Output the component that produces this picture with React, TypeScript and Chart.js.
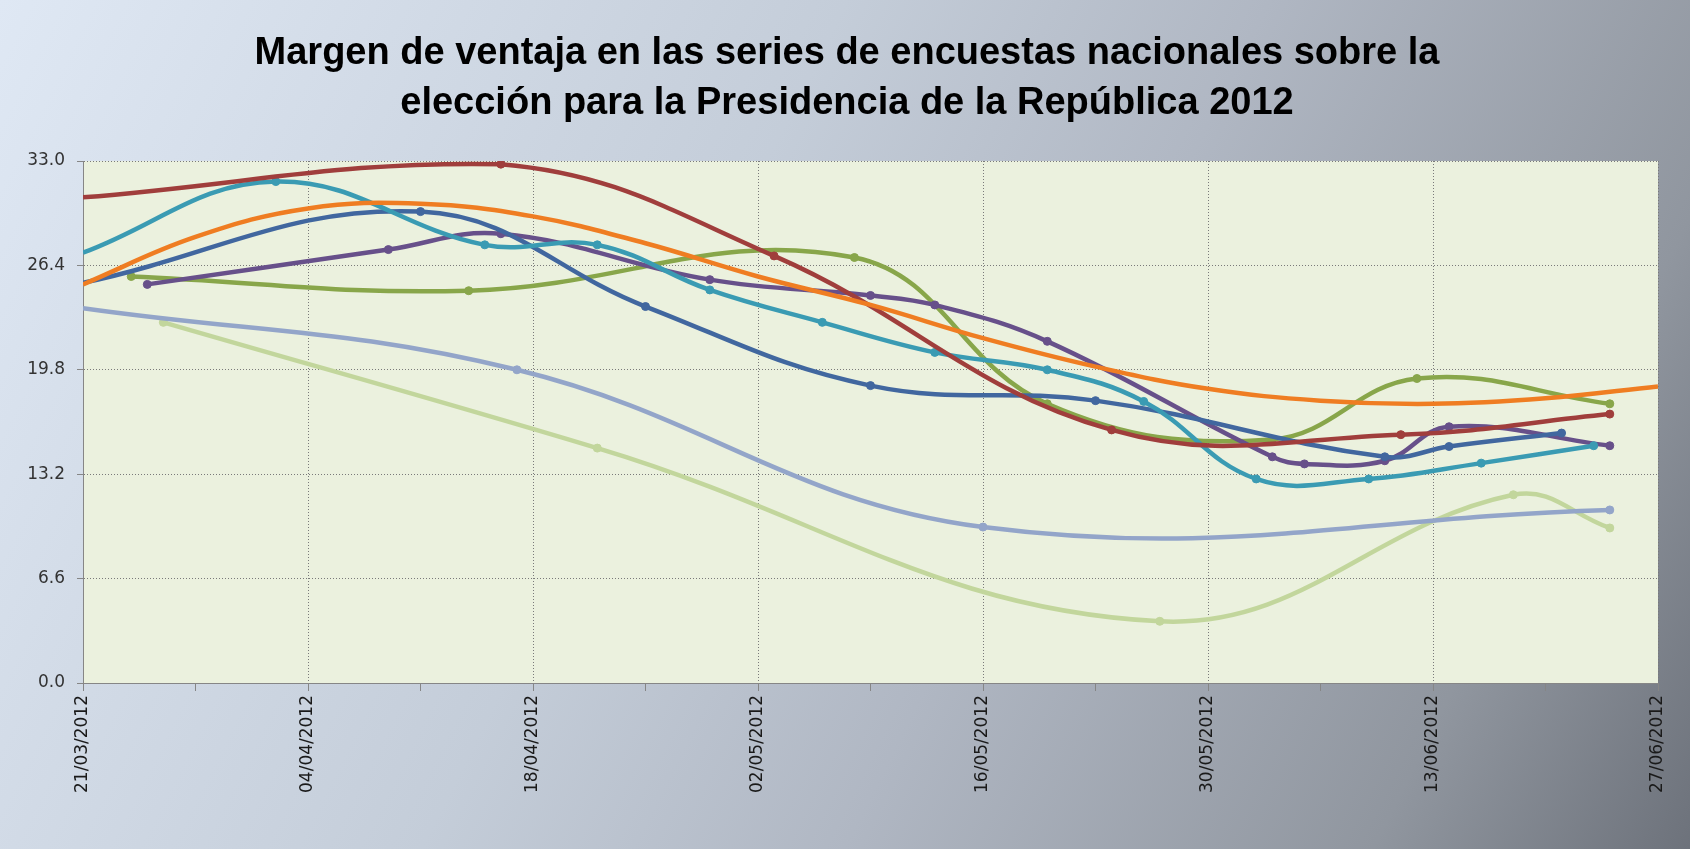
import React, { useEffect, useRef } from 'react';
import { Chart, registerables } from 'chart.js';

Chart.register(...registerables);

// ---------- data ----------
const TITLE_LINES = [
  'Margen de ventaja en las series de encuestas nacionales sobre la',
  'elección para la Presidencia de la República 2012',
];

const X_TICK_LABELS = [
  '21/03/2012', '04/04/2012', '18/04/2012', '02/05/2012',
  '16/05/2012', '30/05/2012', '13/06/2012', '27/06/2012',
];
const Y_TICKS = [0, 6.6, 13.2, 19.8, 26.4, 33.0];

const redDates = ['21/03', '16/04', '03/05', '24/05', '11/06', '24/06'];
const redValues = [30.7, 32.8, 27.0, 16.0, 15.7, 17.0];

const tealDates = ['21/03', '02/04', '15/04', '22/04', '29/04', '06/05', '13/05', '20/05', '26/05', '02/06', '09/06', '16/06', '23/06'];
const tealValues = [27.2, 31.7, 27.7, 27.7, 24.85, 22.8, 20.9, 19.8, 17.8, 12.9, 12.9, 13.9, 15.0];

const blueDates = ['21/03', '11/04', '25/04', '09/05', '23/05', '10/06', '14/06', '21/06'];
const blueValues = [25.3, 29.8, 23.8, 18.8, 17.85, 14.3, 14.95, 15.8];

const purpleDates = ['25/03', '09/04', '16/04', '29/04', '09/05', '13/05', '20/05', '03/06', '05/06', '10/06', '14/06', '24/06'];
const purpleValues = [25.2, 27.4, 28.4, 25.5, 24.5, 23.9, 21.6, 14.3, 13.85, 14.05, 16.2, 15.0];

const greenDates = ['24/03', '14/04', '08/05', '20/05', '03/06', '12/06', '24/06'];
const greenValues = [25.7, 24.8, 26.9, 17.65, 15.4, 19.25, 17.65];

const greyBlueDates = ['21/03', '17/04', '16/05', '24/06'];
const greyBlueValues = [23.7, 19.8, 9.86, 10.94];

const lightGreenDates = ['26/03', '22/04', '27/05', '18/06', '24/06'];
const lightGreenValues = [22.8, 14.85, 3.9, 11.9, 9.8];

const trendDates = ['21/03', '28/03', '04/04', '11/04', '18/04', '25/04', '02/05', '09/05', '16/05', '23/05', '30/05', '06/06', '13/06', '20/06', '27/06'];
const trendValues = [25.2, 28.2, 30.0, 30.3, 29.5, 27.8, 25.7, 23.9, 21.8, 20.0, 18.6, 17.85, 17.65, 18.0, 18.75];

// ---------- helpers ----------
const START = Date.UTC(2012, 2, 21);
function dayOf(s: string): number {
  const [d, m] = s.split('/').map(Number);
  return Math.round((Date.UTC(2012, m - 1, d) - START) / 86400000);
}
function pts(dates: string[], values: number[]) {
  return dates.map((d, i) => ({ x: dayOf(d), y: values[i] }));
}

const X_MAX = dayOf(X_TICK_LABELS[X_TICK_LABELS.length - 1].slice(0, 5));
const X_TICK_DAYS: number[] = [];
for (let v = 0; v <= X_MAX; v += 7) X_TICK_DAYS.push(v);

function line(label: string, dates: string[], values: number[], color: string, order: number, markers = true) {
  return {
    label,
    data: pts(dates, values),
    borderColor: color,
    backgroundColor: color,
    pointBackgroundColor: color,
    pointBorderColor: color,
    borderWidth: 4.5,
    pointRadius: markers ? (ctx: any) => (ctx.raw && ctx.raw.x === 0 ? 0 : 4) : 0,
    pointBorderWidth: 1,
    tension: 0.4,
    fill: false,
    order,
  };
}

const bgPlugin = {
  id: 'bgPlugin',
  afterLayout(chart: any) {
    // let the y-axis labels use the full left margin (title stays centred as in the reference)
    const s = chart.scales.y;
    if (s) {
      s.left = 0;
      s.width = s.right;
    }
  },
  beforeDraw(chart: any) {
    const { ctx, width, height, chartArea } = chart;
    ctx.save();
    const g = ctx.createLinearGradient(0, 0, width, height);
    g.addColorStop(0, '#dfe8f4');
    g.addColorStop(0.4, '#c4cdd9');
    g.addColorStop(0.6, '#b0b7c3');
    g.addColorStop(0.85, '#90969f');
    g.addColorStop(1, '#6d727b');
    ctx.fillStyle = g;
    ctx.fillRect(0, 0, width, height);
    ctx.fillStyle = '#ebf1de';
    ctx.fillRect(chartArea.left, chartArea.top, chartArea.right - chartArea.left, chartArea.bottom - chartArea.top);
    ctx.restore();
  },
};

const AXIS_FONT = "'DejaVu Sans', Verdana, sans-serif";
const PAD_LEFT = 36;

export default function App() {
  const ref = useRef<HTMLCanvasElement>(null);
  useEffect(() => {
    if (!ref.current) return;
    const chart = new Chart(ref.current, {
      type: 'line',
      data: {
        datasets: [
          line('Tendencia', trendDates, trendValues, '#ef7d22', 0, false),
          line('Serie 1', redDates, redValues, '#a03e3c', 1),
          line('Serie 2', tealDates, tealValues, '#3a9bb3', 2),
          line('Serie 3', blueDates, blueValues, '#41679f', 3),
          line('Serie 4', purpleDates, purpleValues, '#67508a', 4),
          line('Serie 5', greenDates, greenValues, '#88a64a', 5),
          line('Serie 6', greyBlueDates, greyBlueValues, '#93a5c9', 6),
          line('Serie 7', lightGreenDates, lightGreenValues, '#c2d69c', 7),
        ] as any,
      },
      options: {
        responsive: false,
        animation: false,
        devicePixelRatio: 1,
        layout: { padding: { left: PAD_LEFT, right: 32, top: 0, bottom: 0 } },
        plugins: {
          legend: { display: false },
          tooltip: { enabled: false },
          title: {
            display: true,
            text: TITLE_LINES,
            color: '#000000',
            font: { family: "'Liberation Sans', Arial, sans-serif", size: 38, weight: 'bold', lineHeight: 50 / 38 },
            padding: { top: 29, bottom: 32 },
          },
        },
        scales: {
          x: {
            type: 'linear',
            min: 0,
            max: X_MAX,
            afterBuildTicks: (s: any) => {
              s.ticks = X_TICK_DAYS.map((v) => ({ value: v }));
            },
            afterFit: (s: any) => {
              s.height = 166;
            },
            ticks: {
              autoSkip: false,
              minRotation: 90,
              maxRotation: 90,
              padding: 4,
              color: '#1a1a1a',
              font: { family: AXIS_FONT, size: 17 },
              callback: (v: any) => (v % 14 === 0 ? X_TICK_LABELS[v / 14] : ''),
            },
            grid: {
              color: (ctx: any) => (ctx.tick && ctx.tick.value % 14 === 0 ? '#7a7a7a' : 'rgba(0,0,0,0)'),
              tickColor: '#868686',
              tickLength: 8,
              lineWidth: 1,
            },
            border: { display: true, color: '#868686', width: 1, dash: [1, 2] },
          },
          y: {
            type: 'linear',
            min: Y_TICKS[0],
            max: Y_TICKS[Y_TICKS.length - 1],
            afterBuildTicks: (s: any) => {
              s.ticks = Y_TICKS.map((v) => ({ value: v }));
            },
            afterFit: (s: any) => {
              s.width = 83 - PAD_LEFT;
            },
            ticks: {
              padding: 12,
              color: '#333333',
              font: { family: AXIS_FONT, size: 17 },
              callback: (v: any) => Number(v).toFixed(1),
            },
            grid: {
              color: '#7a7a7a',
              tickColor: '#868686',
              tickLength: 6,
              lineWidth: 1,
            },
            border: { display: true, color: '#868686', width: 1, dash: [1, 2] },
          },
        },
      },
      plugins: [bgPlugin],
    } as any);
    return () => chart.destroy();
  }, []);
  return (
    <div style={{ position: 'absolute', left: 0, top: 0, width: 1690, height: 849 }}>
      <canvas ref={ref} width={1690} height={849} style={{ display: 'block' }} />
    </div>
  );
}
